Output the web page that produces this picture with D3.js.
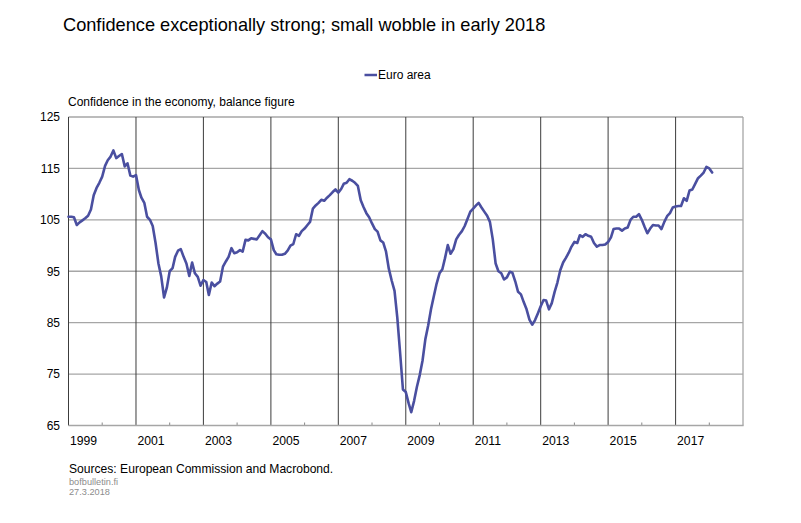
<!DOCTYPE html>
<html>
<head>
<meta charset="utf-8">
<script src="https://cdn.jsdelivr.net/npm/d3@7"></script>
<style>
  body { margin: 0; background: #fff; }
  svg { display: block; font-family: "Liberation Sans", Arial, sans-serif; }
</style>
</head>
<body>
<svg id="chart" width="801" height="523"></svg>
<script>
// ---- Data (monthly, Jan 1999 – Feb 2018) ----
const seriesName = "Euro area";
const startYear = 1999;
const values1999 = [105.6, 105.6, 105.5, 104.0, 104.5, 104.9, 105.3, 105.8, 107.0, 109.8, 111.2, 112.2];
const values2000 = [113.4, 115.5, 116.6, 117.3, 118.5, 117.0, 117.4, 117.8, 115.4, 116.0, 113.6, 113.4];
const values2001 = [113.7, 110.8, 109.3, 108.3, 105.6, 105.0, 103.8, 100.5, 96.5, 94.0, 89.9, 91.8];
const values2002 = [95.0, 95.6, 97.8, 99.0, 99.3, 97.8, 96.5, 94.1, 96.7, 94.6, 93.9, 92.2];
const values2003 = [93.3, 92.9, 90.4, 92.8, 92.1, 92.6, 93.0, 95.9, 96.9, 97.8, 99.5, 98.5];
const values2004 = [98.7, 99.1, 98.8, 101.1, 101.0, 101.4, 101.3, 101.2, 102.0, 102.8, 102.3, 101.6];
const values2005 = [101.2, 99.1, 98.3, 98.2, 98.2, 98.4, 99.0, 100.0, 100.3, 102.2, 101.9, 102.8];
const values2006 = [103.3, 104.0, 104.6, 107.2, 107.8, 108.3, 108.9, 108.7, 109.3, 109.8, 110.4, 110.9];
const values2007 = [110.3, 111.0, 112.0, 112.2, 112.9, 112.6, 112.2, 111.6, 108.8, 107.5, 106.3, 105.5];
const values2008 = [104.3, 103.2, 102.7, 101.0, 100.6, 98.8, 95.5, 93.2, 91.2, 86.0, 79.0, 72.0];
const values2009 = [71.5, 69.3, 67.6, 69.8, 72.5, 74.8, 77.6, 81.8, 84.5, 87.6, 90.2, 92.6];
const values2010 = [94.6, 95.4, 97.5, 100.1, 98.4, 99.3, 101.2, 102.1, 102.8, 103.8, 105.2, 106.6];
const values2011 = [107.2, 107.8, 108.3, 107.4, 106.6, 105.8, 104.6, 101.2, 96.5, 95.0, 94.6, 93.4];
const values2012 = [93.8, 94.9, 94.7, 93.0, 91.0, 90.5, 89.0, 87.6, 85.6, 84.6, 85.5, 86.8];
const values2013 = [88.2, 89.4, 89.3, 87.6, 88.8, 91.0, 92.8, 95.2, 96.7, 97.6, 98.6, 99.8];
const values2014 = [100.7, 100.5, 102.0, 101.7, 102.2, 101.9, 101.7, 100.5, 99.8, 100.1, 100.1, 100.2];
const values2015 = [100.7, 101.6, 103.2, 103.3, 103.3, 102.9, 103.3, 103.5, 105.0, 105.6, 105.6, 106.1];
const values2016 = [105.0, 103.6, 102.4, 103.3, 104.0, 103.9, 103.9, 103.2, 104.6, 105.7, 106.3, 107.4];
const values2017 = [107.6, 107.7, 107.7, 109.2, 108.7, 110.7, 110.9, 112.0, 113.1, 113.6, 114.2, 115.3];
const values2018 = [115.0, 114.2];

const yTicks = [65, 75, 85, 95, 105, 115, 125];
const xLabelYears = [1999, 2001, 2003, 2005, 2007, 2009, 2011, 2013, 2015, 2017];
const xMinorYears = [2000, 2002, 2004, 2006, 2008, 2010, 2012, 2014, 2016, 2018];
const xGridYears = [2001, 2003, 2005, 2007, 2009, 2011, 2013, 2015, 2017];

const titleText = "Confidence exceptionally strong; small wobble in early 2018";
const subtitleText = "Confidence in the economy, balance figure";
const sourceText = "Sources: European Commission and Macrobond.";
const siteText = "bofbulletin.fi";
const dateText = "27.3.2018";

(function () {
// ---- Build series ----
const allValues = [].concat(values1999, values2000, values2001, values2002, values2003,
  values2004, values2005, values2006, values2007, values2008, values2009, values2010,
  values2011, values2012, values2013, values2014, values2015, values2016, values2017, values2018);
const data = allValues.map((v, i) => ({ date: new Date(startYear, i, 1), value: v }));

// ---- Layout ----
const svg = d3.select("#chart");
const pLeft = 68.5, pRight = 743, pTop = 117, pBottom = 425.5;
const lineColor = "#4a4fa0";
const hGridColor = "#a6a6a6";
const vGridColor = "#3c3c3c";

const x = d3.scaleTime()
  .domain([new Date(1999, 0, 1), new Date(2019, 0, 1)])
  .range([pLeft, pRight]);
const y = d3.scaleLinear().domain([65, 125]).range([pBottom, pTop]);

// Title
svg.append("text").attr("x", 63).attr("y", 30.5)
  .attr("font-size", 18.2).attr("fill", "#000").text(titleText);

// Legend
const lg = svg.append("g");
lg.append("line").attr("x1", 364.5).attr("x2", 377).attr("y1", 75).attr("y2", 75)
  .attr("stroke", lineColor).attr("stroke-width", 2.5);
lg.append("text").attr("x", 378).attr("y", 79.3).attr("font-size", 12)
  .attr("fill", "#000").text(seriesName);

// Subtitle
svg.append("text").attr("x", 68).attr("y", 106)
  .attr("font-size", 12).attr("fill", "#000").text(subtitleText);

// Horizontal gridlines
svg.append("g").selectAll("line").data(yTicks.filter(t => t > 65)).join("line")
  .attr("x1", pLeft).attr("x2", pRight)
  .attr("y1", d => y(d)).attr("y2", d => y(d))
  .attr("stroke", hGridColor).attr("stroke-width", 1.3);

// Vertical gridlines
svg.append("g").selectAll("line").data(xGridYears).join("line")
  .attr("x1", d => x(new Date(d, 0, 1))).attr("x2", d => x(new Date(d, 0, 1)))
  .attr("y1", pTop).attr("y2", pBottom)
  .attr("stroke", vGridColor).attr("stroke-width", 1);

// Left border (dark) and right border (grey)
svg.append("line").attr("x1", pLeft).attr("x2", pLeft).attr("y1", pTop).attr("y2", pBottom)
  .attr("stroke", vGridColor).attr("stroke-width", 1);
svg.append("line").attr("x1", pRight).attr("x2", pRight).attr("y1", pTop).attr("y2", pBottom)
  .attr("stroke", hGridColor).attr("stroke-width", 1.3);

// Minor ticks on bottom axis
svg.append("g").selectAll("line").data(xMinorYears).join("line")
  .attr("x1", d => x(new Date(d, 0, 1))).attr("x2", d => x(new Date(d, 0, 1)))
  .attr("y1", pBottom - 3).attr("y2", pBottom)
  .attr("stroke", "#888").attr("stroke-width", 1);

// Bottom axis line
svg.append("line").attr("x1", pLeft).attr("x2", pRight + 0.6).attr("y1", pBottom).attr("y2", pBottom)
  .attr("stroke", hGridColor).attr("stroke-width", 1.6);

// Y axis labels
const yAxis = d3.axisLeft(y).tickValues(yTicks).tickSize(0).tickPadding(8.5).tickFormat(d3.format("d"));
const yg = svg.append("g").attr("transform", `translate(${pLeft},0)`).call(yAxis);
yg.select(".domain").remove();
yg.selectAll("text").attr("font-size", 12).attr("font-family", "Liberation Sans, Arial, sans-serif").attr("fill", "#000");

// X axis labels (left-aligned at gridline)
const xAxis = d3.axisBottom(x).tickValues(xLabelYears.map(yr => new Date(yr, 0, 1)))
  .tickSize(0).tickPadding(0).tickFormat(d3.timeFormat("%Y"));
const xg = svg.append("g").attr("transform", `translate(0,${pBottom})`).call(xAxis);
xg.select(".domain").remove();
xg.selectAll("text").attr("font-size", 12.2).attr("font-family", "Liberation Sans, Arial, sans-serif")
  .attr("fill", "#000").attr("text-anchor", "start").attr("dx", 1).attr("dy", 0).attr("y", 19);

// Line
const line = d3.line().x(d => x(d.date)).y(d => y(d.value));
svg.append("path").datum(data).attr("d", line)
  .attr("fill", "none").attr("stroke", lineColor).attr("stroke-width", 2.6)
  .attr("stroke-linejoin", "round").attr("stroke-linecap", "round");

// Footer
svg.append("text").attr("x", 69).attr("y", 473).attr("font-size", 12.1).attr("fill", "#000").text(sourceText);
svg.append("text").attr("x", 69).attr("y", 484.5).attr("font-size", 9.2).attr("fill", "#8c8c8c").text(siteText);
svg.append("text").attr("x", 69).attr("y", 495).attr("font-size", 9.2).attr("fill", "#8c8c8c").text(dateText);
})();
</script>
</body>
</html>
